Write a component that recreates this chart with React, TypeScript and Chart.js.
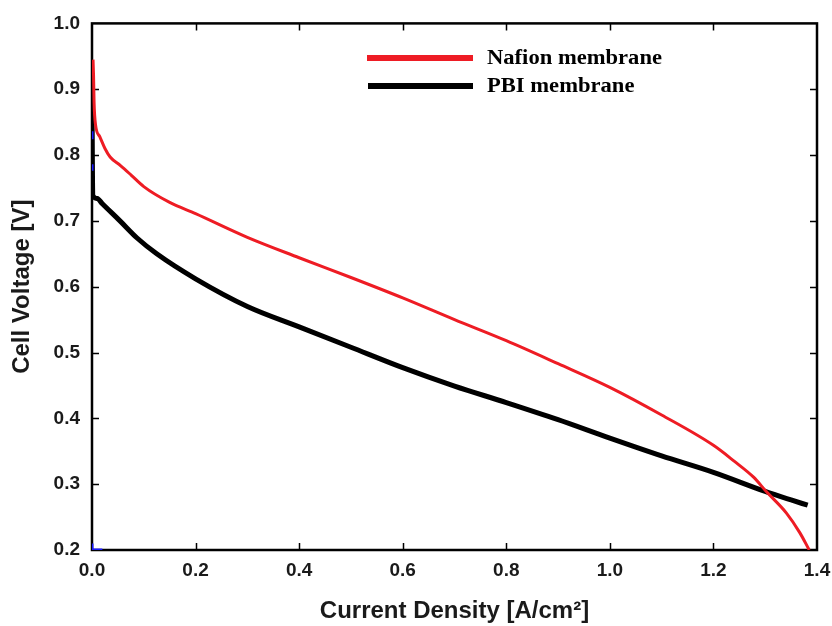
import React, { useEffect, useRef } from "react";
import { Chart, registerables } from "chart.js";

Chart.register(...registerables);

const nafionCurrent = [0.002, 0.003, 0.004, 0.007, 0.015, 0.025, 0.035, 0.055, 0.075, 0.1, 0.15, 0.2, 0.3, 0.4, 0.5, 0.6, 0.7, 0.8, 0.9, 1.0, 1.1, 1.2, 1.24, 1.277, 1.303, 1.341, 1.367, 1.385];
const nafionVoltage = [0.945, 0.92, 0.88, 0.845, 0.828, 0.81, 0.797, 0.784, 0.77, 0.752, 0.728, 0.711, 0.675, 0.644, 0.614, 0.583, 0.55, 0.518, 0.483, 0.447, 0.405, 0.359, 0.335, 0.311, 0.288, 0.256, 0.226, 0.2];

const pbiCurrent = [0.0, 0.0005, 0.001, 0.002, 0.01, 0.02, 0.054, 0.087, 0.125, 0.2, 0.3, 0.4, 0.5, 0.6, 0.7, 0.8, 0.9, 1.0, 1.1, 1.2, 1.3, 1.35, 1.382];
const pbiVoltage = [0.885, 0.82, 0.76, 0.738, 0.734, 0.726, 0.7, 0.674, 0.65, 0.612, 0.57, 0.539, 0.508, 0.477, 0.449, 0.424, 0.398, 0.37, 0.343, 0.318, 0.289, 0.276, 0.268];

const blueCurrent = [0.0, 0.0, null, 0.0, 0.0, null, 0.0, 0.0, 0.02];
const blueVoltage = [0.836, 0.824, null, 0.786, 0.776, null, 0.21, 0.2, 0.2];

const seriesNames = ["Nafion membrane", "PBI membrane"];
const seriesColors = ["#ee1c24", "#000000"];

const xTicks = [0.0, 0.2, 0.4, 0.6, 0.8, 1.0, 1.2, 1.4];
const yTicks = [0.2, 0.3, 0.4, 0.5, 0.6, 0.7, 0.8, 0.9, 1.0];

const toPoints = (xs: (number | null)[], ys: (number | null)[]) =>
  xs.map((x, i) => (x === null || ys[i] === null ? { x: NaN, y: NaN } : { x, y: ys[i] as number }));

const framePlugin = {
  id: "frame",
  beforeDatasetsDraw(chart: any) {
    const { ctx, chartArea: a, scales } = chart;
    const x = scales.x;
    const y = scales.y;
    ctx.save();
    ctx.strokeStyle = "#000";
    ctx.lineWidth = 2.5;
    ctx.strokeRect(a.left, a.top, a.right - a.left, a.bottom - a.top);
    ctx.lineWidth = 1.5;
    const len = 7;
    ctx.beginPath();
    xTicks.slice(1, -1).forEach((v) => {
      const px = Math.round(x.getPixelForValue(v)) + 0.5;
      ctx.moveTo(px, a.bottom);
      ctx.lineTo(px, a.bottom - len);
      ctx.moveTo(px, a.top);
      ctx.lineTo(px, a.top + len);
    });
    yTicks.slice(1, -1).forEach((v) => {
      const py = Math.round(y.getPixelForValue(v)) + 0.5;
      ctx.moveTo(a.left, py);
      ctx.lineTo(a.left + len, py);
      ctx.moveTo(a.right, py);
      ctx.lineTo(a.right - len, py);
    });
    ctx.stroke();
    ctx.restore();
  },
  afterDraw(chart: any) {
    const { ctx } = chart;
    ctx.save();
    const rows = [
      { x1: 367, x2: 473, y: 58, w: 175 },
      { x1: 368, x2: 473, y: 86, w: 147 },
    ];
    ctx.font = "bold 20px 'Liberation Serif', 'Times New Roman', serif";
    const sx = rows[0].w / ctx.measureText(seriesNames[0]).width;
    rows.forEach((r, i) => {
      ctx.strokeStyle = seriesColors[i];
      ctx.lineWidth = 6;
      ctx.beginPath();
      ctx.moveTo(r.x1, r.y);
      ctx.lineTo(r.x2, r.y);
      ctx.stroke();
      ctx.save();
      ctx.translate(487, r.y);
      ctx.scale(sx, 1);
      ctx.fillStyle = "#000";
      ctx.textBaseline = "middle";
      ctx.textAlign = "left";
      ctx.fillText(seriesNames[i], 0, 1);
      ctx.restore();
    });
    ctx.restore();
  },
};

export default function App() {
  const ref = useRef<HTMLCanvasElement | null>(null);
  useEffect(() => {
    if (!ref.current) return;
    const tickFont = { family: "'Liberation Sans', Arial, sans-serif", size: 19, weight: "bold" as const };
    const titleFont = { family: "'Liberation Sans', Arial, sans-serif", size: 24, weight: "bold" as const };
    const chart = new Chart(ref.current, {
      type: "scatter",
      data: {
        datasets: [
          {
            label: seriesNames[0],
            data: toPoints(nafionCurrent, nafionVoltage),
            borderColor: seriesColors[0],
            backgroundColor: seriesColors[0],
            borderWidth: 3,
            showLine: true,
            cubicInterpolationMode: "monotone",
            pointRadius: 0,
            order: 1,
          },
          {
            label: seriesNames[1],
            data: toPoints(pbiCurrent, pbiVoltage),
            borderColor: seriesColors[1],
            backgroundColor: seriesColors[1],
            borderWidth: 5,
            showLine: true,
            cubicInterpolationMode: "monotone",
            pointRadius: 0,
            order: 2,
          },
          {
            label: "",
            data: toPoints(blueCurrent, blueVoltage),
            borderColor: "#1a1aff",
            borderWidth: 3,
            showLine: true,
            spanGaps: false,
            pointRadius: 0,
            order: 0,
          },
        ],
      },
      options: {
        responsive: false,
        animation: false,
        layout: { padding: { left: 8, right: 15, top: 22, bottom: 0 } },
        plugins: { legend: { display: false }, tooltip: { enabled: false } },
        scales: {
          x: {
            type: "linear",
            min: 0,
            max: 1.4,
            afterBuildTicks: (s: any) => {
              s.ticks = xTicks.map((v) => ({ value: v }));
            },
            afterFit: (s: any) => {
              s.height = 76;
              s.paddingLeft = 0;
              s.paddingRight = 0;
            },
            grid: { display: false, drawTicks: false },
            border: { display: false },
            ticks: {
              color: "#1a1a1a",
              font: tickFont,
              padding: 9,
              maxRotation: 0,
              autoSkip: false,
              callback: (v: any) => Number(v).toFixed(1),
            },
            title: {
              display: true,
              text: "Current Density [A/cm²]",
              color: "#1a1a1a",
              font: titleFont,
              padding: { top: 0, bottom: 0 },
            },
          },
          y: {
            type: "linear",
            min: 0.2,
            max: 1.0,
            afterBuildTicks: (s: any) => {
              s.ticks = yTicks.map((v) => ({ value: v }));
            },
            afterFit: (s: any) => {
              s.width = 84;
            },
            grid: { display: false, drawTicks: false },
            border: { display: false },
            ticks: {
              color: "#1a1a1a",
              font: tickFont,
              padding: 12,
              autoSkip: false,
              callback: (v: any) => Number(v).toFixed(1),
            },
            title: {
              display: true,
              text: "Cell Voltage [V]",
              color: "#1a1a1a",
              font: titleFont,
              padding: { top: 0, bottom: 0 },
            },
          },
        },
      },
      plugins: [framePlugin],
    });
    return () => chart.destroy();
  }, []);
  return (
    <div style={{ position: "fixed", left: 0, top: 0, width: 832, height: 626, background: "#fff" }}>
      <canvas ref={ref} width={832} height={626} />
    </div>
  );
}
